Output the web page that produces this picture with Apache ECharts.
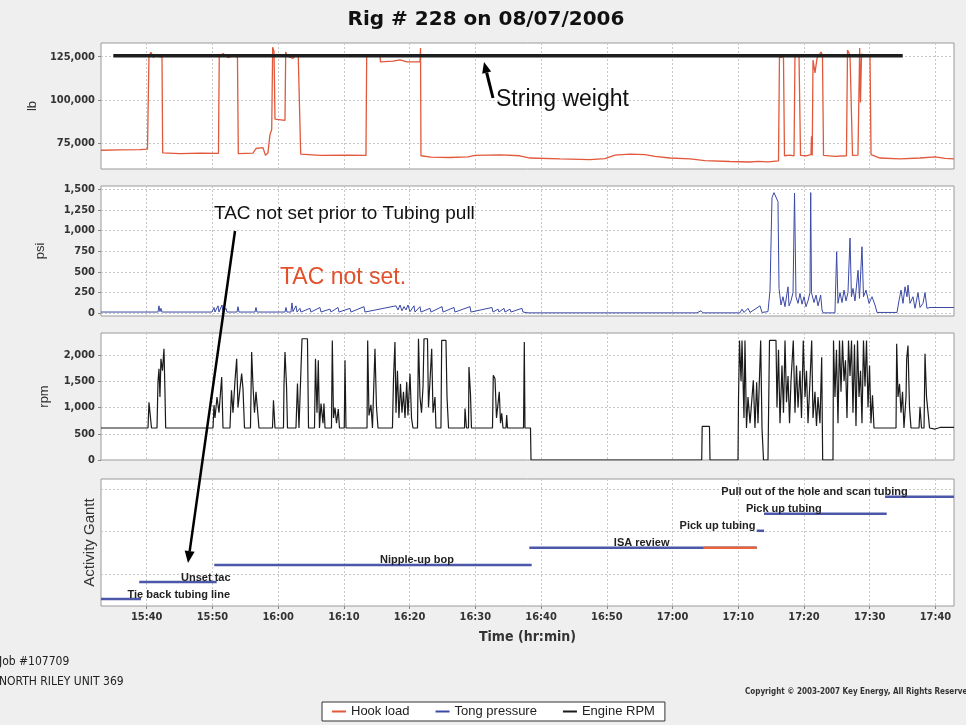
<!DOCTYPE html>
<html>
<head>
<meta charset="utf-8">
<title>Rig # 228 on 08/07/2006</title>
<script src="https://cdn.jsdelivr.net/npm/echarts@6.0.0/dist/echarts.min.js"></script>
<style>
  html, body { margin: 0; padding: 0; background: #efefef; }
  #chart { width: 966px; height: 725px; }
</style>
</head>
<body>
<div id="chart"></div>
<script>
// all times are minutes after midnight (15:40 = 940)
const hookTime = [
  933.05, 935.94, 938.98, 940.12, 940.24, 940.35, 940.65, 941.03, 941.41, 941.87, 942.33, 942.43,
  945.07, 948.11, 950.92, 951.04, 951.61, 952.37, 953.13, 953.81, 953.94, 956.17, 956.63, 957.69,
  958.07, 958.45, 958.76, 959.02, 959.17, 959.37, 959.52, 961.04, 961.15, 961.34, 962.26, 962.71,
  963.06, 963.43, 966.36, 970.17, 973.36, 973.47, 974.28, 975.49, 975.57, 977.47, 978.54, 979.6,
  981.58, 981.66, 981.73, 983.25, 986.14, 988.88, 989.95, 993.75, 996.79, 998.31, 1002.88, 1007.44,
  1009.72, 1011.24, 1013.52, 1015.8, 1017.33, 1019.61, 1022.66, 1024.94, 1028.74, 1031.78, 1033.0, 1034.52,
  1036.12, 1036.27, 1036.5, 1036.73, 1036.88, 1037.03, 1037.87, 1038.48, 1038.63, 1038.93, 1039.24, 1039.47,
  1040.3, 1041.06, 1041.14, 1041.25, 1041.37, 1041.67, 1041.98, 1042.28, 1042.59, 1042.81, 1042.97, 1044.71,
  1046.46, 1046.62, 1047.0, 1047.22, 1047.38, 1048.21, 1048.37, 1048.47, 1048.59, 1048.75, 1049.43, 1050.04,
  1050.2, 1051.56, 1054.61, 1057.65, 1059.93, 1061.45, 1062.82
];
const hookLoad = [
  71000, 71200, 71300, 71600, 72500, 125500, 127500, 124500, 126000, 125000, 124800, 69500,
  69000, 69300, 69200, 125000, 126800, 124500, 125500, 124800, 69000, 69300, 72000, 72500,
  68000, 69500, 80000, 83000, 130500, 128000, 89000, 88200, 127800, 125500, 124000, 126000,
  125000, 68800, 68000, 68200, 68000, 125500, 126000, 125000, 122000, 122500, 123200, 122000,
  122200, 130000, 67800, 67000, 66800, 67200, 68000, 68300, 67800, 66500, 66000, 65600,
  66200, 68200, 68800, 68500, 67500, 66500, 66000, 65000, 64500, 64200, 64600, 64300,
  64800, 126000, 124500, 125800, 124000, 67800, 68200, 67800, 126500, 125000, 125800, 68000,
  67800, 68500, 79000, 68000, 123000, 115700, 124000, 125000, 127700, 125500, 68000, 67500,
  67800, 128800, 126000, 125500, 68000, 68200, 69000, 130000, 98500, 126500, 125500, 126000,
  68500, 66500, 66000, 66500, 67200, 66300, 66000
];
const stringWeightTime = [934.92, 1055.02];
const stringWeight = 125600;

const tongTime = [
  933.05, 941.72, 941.87, 942.02, 942.17, 942.33, 949.93, 950.24, 950.39, 950.85, 951.0, 951.46,
  951.61, 952.06, 952.22, 953.74, 953.89, 954.04, 956.48, 956.63, 956.78, 961.04, 961.19, 961.34,
  961.95, 962.1, 962.26, 962.71, 962.87, 963.32, 963.47, 964.84, 964.99, 966.36, 966.52, 967.89,
  968.04, 969.1, 969.26, 970.93, 971.08, 973.06, 973.21, 977.93, 978.23, 978.54, 978.84, 979.14,
  979.45, 979.75, 980.06, 980.67, 980.82, 981.58, 981.73, 983.1, 983.25, 984.93, 985.08, 986.75,
  986.9, 989.19, 989.34, 992.53, 992.69, 993.45, 993.6, 994.36, 994.51, 995.27, 995.42, 997.1,
  997.25, 998.01, 1023.72, 1024.33, 1024.63, 1030.26, 1030.57, 1030.87, 1031.48, 1031.79, 1033.31, 1033.61,
  1034.52, 1034.83, 1035.13, 1035.44, 1035.74, 1036.04, 1036.2, 1036.5, 1036.8, 1037.11, 1037.41, 1037.57,
  1037.72, 1038.02, 1038.33, 1038.56, 1038.78, 1039.09, 1039.39, 1039.7, 1040.0, 1040.3, 1040.61, 1040.91,
  1041.02, 1041.14, 1041.52, 1041.83, 1042.13, 1042.54, 1042.74, 1042.89, 1044.71, 1044.97, 1045.17, 1045.48,
  1045.78, 1046.09, 1046.39, 1046.69, 1047.0, 1047.22, 1047.45, 1047.76, 1048.22, 1048.44, 1048.82, 1049.05,
  1049.43, 1049.89, 1050.35, 1050.8, 1051.11, 1054.15, 1054.45, 1054.76, 1055.06, 1055.37, 1055.67, 1055.82,
  1056.13, 1056.58, 1056.89, 1057.34, 1057.65, 1058.1, 1058.41, 1058.71, 1059.17, 1062.82
];
const tongPressure = [
  15, 15, 90, 20, 60, 15, 15, 70, 15, 90, 15, 100,
  15, 60, 15, 15, 80, 15, 15, 70, 15, 15, 70, 15,
  15, 125, 20, 90, 15, 60, 15, 60, 15, 70, 15, 50,
  15, 70, 15, 60, 15, 80, 15, 90, 40, 100, 30, 80,
  40, 100, 20, 90, 15, 80, 15, 60, 15, 80, 15, 70,
  15, 80, 15, 70, 15, 50, 15, 60, 15, 50, 15, 60,
  15, 5, 5, 30, 5, 5, 50, 10, 60, 10, 90, 10,
  20, 280, 1400, 1460, 1460, 1350, 300, 100, 200, 80, 240, 320,
  90, 150, 250, 1455, 200, 120, 240, 110, 200, 80, 150, 250,
  1460, 250, 130, 220, 90, 220, 40, 5, 5, 745, 120, 250,
  130, 280, 150, 250, 910, 200, 300, 150, 520, 180, 805, 200,
  280, 120, 200, 100, 10, 10, 150, 280, 120, 320, 200, 340,
  120, 200, 60, 250, 70, 120, 250, 60, 70, 70
];

const rpmTime = [
  933.05, 940.2, 940.35, 940.58, 940.73, 941.57, 941.72, 941.87, 942.02, 942.17, 942.4, 942.63,
  942.78, 942.89, 950.09, 950.24, 950.39, 950.7, 951.0, 951.41, 951.61, 952.67, 952.9, 953.13,
  953.43, 953.69, 953.89, 954.19, 954.45, 954.65, 954.88, 955.79, 955.97, 956.17, 956.4, 956.63,
  956.93, 957.08, 959.14, 959.29, 959.52, 960.81, 960.89, 961.04, 961.27, 961.42, 962.71, 962.94,
  963.17, 963.47, 963.63, 964.46, 964.62, 965.53, 965.68, 965.91, 966.11, 966.29, 966.52, 966.82,
  966.97, 967.13, 968.11, 968.24, 968.42, 968.65, 968.88, 969.15, 969.33, 970.06, 970.17, 970.32,
  973.52, 973.62, 973.82, 974.12, 974.35, 974.63, 974.73, 974.96, 975.19, 977.39, 977.55, 977.77,
  977.93, 978.15, 978.38, 978.61, 978.84, 979.07, 979.3, 979.56, 979.75, 980.06, 980.29, 980.51,
  981.2, 981.35, 981.58, 981.81, 982.04, 982.19, 982.72, 982.87, 983.1, 983.36, 983.56, 983.86,
  984.01, 984.77, 984.88, 985.53, 985.69, 985.92, 988.35, 988.43, 988.65, 988.96, 989.03, 989.26,
  989.41, 992.61, 992.73, 992.99, 993.22, 993.64, 993.83, 994.01, 994.21, 994.66, 994.77, 994.89,
  997.33, 997.45, 997.55, 998.39, 998.47, 1024.44, 1024.51, 1025.62, 1025.7, 1029.96, 1030.04, 1030.19,
  1030.42, 1030.57, 1030.87, 1031.02, 1031.25, 1031.48, 1031.79, 1032.29, 1032.54, 1032.8, 1033.0, 1033.41,
  1033.61, 1033.84, 1034.52, 1034.75, 1035.74, 1035.89, 1036.12, 1036.35, 1036.65, 1036.88, 1037.11, 1037.34,
  1037.57, 1037.8, 1038.02, 1038.37, 1038.63, 1038.86, 1039.09, 1039.39, 1039.62, 1039.89, 1040.15, 1040.38,
  1040.61, 1040.91, 1041.17, 1041.37, 1041.67, 1041.9, 1042.13, 1042.43, 1042.69, 1042.84, 1044.41, 1044.49,
  1044.71, 1044.94, 1045.17, 1045.4, 1045.63, 1045.86, 1046.09, 1046.31, 1046.54, 1046.77, 1047.0, 1047.23,
  1047.45, 1047.68, 1047.91, 1048.14, 1048.37, 1048.6, 1048.82, 1049.05, 1049.28, 1049.51, 1049.74, 1049.97,
  1050.19, 1050.42, 1050.65, 1054.0, 1054.1, 1054.3, 1054.53, 1054.76, 1054.99, 1055.21, 1055.52, 1055.62,
  1055.82, 1056.05, 1056.28, 1057.5, 1057.65, 1057.88, 1058.26, 1058.41, 1058.64, 1058.91, 1059.1, 1059.93,
  1060.69, 1062.82
];
const engineRpm = [
  610, 610, 1100, 1108, 610, 610, 1500, 1740, 1200, 1930, 1700, 2120,
  1300, 610, 610, 1045, 800, 1200, 900, 1580, 610, 610, 1330, 900,
  1500, 1930, 1000, 1350, 1645, 1360, 610, 610, 2057, 1425, 900, 1300,
  855, 610, 610, 1140, 610, 610, 1425, 2057, 1425, 610, 610, 1456,
  610, 610, 2310, 2310, 610, 610, 1930, 900, 1900, 610, 1077, 700,
  1077, 610, 610, 2278, 800, 1000, 700, 970, 610, 610, 1900, 610,
  610, 2278, 850, 1050, 610, 610, 2120, 1014, 610, 610, 1550, 2247,
  900, 1700, 800, 1450, 900, 1300, 800, 1488, 850, 1645, 800, 610,
  610, 2310, 1200, 900, 1400, 2310, 2310, 1000, 1500, 2120, 900, 1200,
  610, 610, 2278, 2278, 1200, 610, 610, 982, 610, 610, 1770, 1260,
  610, 610, 1615, 1550, 800, 1300, 700, 890, 610, 610, 855, 610,
  610, 2247, 610, 610, 0, 0, 640, 640, 0, 0, 1200, 2278,
  1500, 2278, 800, 2278, 610, 1200, 700, 1520, 610, 1480, 700, 2278,
  610, 0, 0, 2278, 2278, 1000, 2100, 700, 1800, 900, 2278, 1100,
  1600, 700, 1500, 2278, 900, 1800, 1000, 1700, 800, 2278, 1200, 1700,
  700, 1500, 2278, 800, 1300, 650, 1200, 700, 1960, 0, 0, 2278,
  1200, 2100, 700, 2278, 1300, 2278, 1500, 1900, 800, 2278, 1600, 2278,
  900, 2200, 650, 2278, 1200, 1700, 700, 2278, 1400, 2278, 1000, 1800,
  700, 1235, 610, 610, 2215, 1200, 1450, 900, 1300, 610, 1200, 1930,
  2180, 1000, 610, 610, 1014, 610, 610, 2025, 1200, 860, 610, 590,
  620, 620
];

const activities = ['Tie back tubing line', 'Unset tac', 'Nipple-up bop', 'ISA review',
  'Pick up tubing', 'Pick up tubing', 'Pull out of the hole and scan tubing'];
const activityStart = [933.05, 938.87, 950.28, 998.21, 1032.8, 1033.92, 1052.33];
const activityEnd = [939.13, 950.65, 998.57, 1032.8, 1033.92, 1052.58, 1062.82];
const activityLabelAt = [944.88, 948.99, 981.12, 1015.3, 1026.84, 1036.93, 1041.6];
const isaOverrun = [1024.68, 1032.8];

const lbTicks = [75000, 100000, 125000];
const psiTicks = [0, 250, 500, 750, 1000, 1250, 1500];
const rpmTicks = [0, 500, 1000, 1500, 2000];
const timeTicks = [940, 950, 960, 970, 980, 990, 1000, 1010, 1020, 1030, 1040, 1050, 1060];

const NARROW = "'Liberation Sans Narrow', 'DejaVu Sans Condensed', 'Liberation Sans', sans-serif";
const SANS = "'Liberation Sans', Arial, sans-serif";
const T_MIN = 933.05, T_MAX = 1062.82;
const gridTops = [43, 186, 333, 479];
const gridHeights = [126, 130, 127, 127];

function hhmm(v) {
  const h = Math.floor(v / 60);
  const m = Math.round(v - h * 60);
  return h + ':' + String(m).padStart(2, '0');
}
function pairs(xs, ys) {
  return xs.map((x, i) => [x, ys[i]]);
}
function rowOf(i) {
  return 0.42 + 0.4 * i;
}

function arrow(x1, y1, x2, y2, width, head) {
  const a = Math.atan2(y2 - y1, x2 - x1);
  const bx = x2 - head * Math.cos(a), by = y2 - head * Math.sin(a);
  const hw = head * 0.42;
  return [
    { type: 'line', z: 100, shape: { x1, y1, x2: bx, y2: by }, style: { stroke: '#000', lineWidth: width } },
    { type: 'polygon', z: 100, shape: { points: [[x2, y2],
      [bx + hw * Math.sin(a), by - hw * Math.cos(a)], [bx - hw * Math.sin(a), by + hw * Math.cos(a)]] },
      style: { fill: '#000' } }
  ];
}
function label(x, y, text, font, fill, align) {
  return { type: 'text', z: 100, x, y, style: { text, font, fill: fill || '#111', align: align || 'left', verticalAlign: 'middle' } };
}

const splitStyle = { show: true, lineStyle: { color: '#c6c6c6', type: [2, 2], width: 1 } };
const tickFont = { fontFamily: NARROW, fontWeight: 'bold', fontSize: 11, color: '#333' };

const chart = echarts.init(document.getElementById('chart'));

const xAxes = gridTops.map((_, i) => ({
  type: 'value', gridIndex: i, min: T_MIN, max: T_MAX,
  axisLine: { show: false },
  axisTick: { show: i === 3, length: 3, customValues: timeTicks, lineStyle: { color: '#888' } },
  axisLabel: Object.assign({ show: i === 3, customValues: timeTicks, formatter: hhmm, margin: 6 }, tickFont),
  splitLine: splitStyle,
  name: i === 3 ? 'Time (hr:min)' : '',
  nameLocation: 'middle', nameGap: 24,
  nameTextStyle: { fontFamily: NARROW, fontWeight: 'bold', fontSize: 14, color: '#333' }
}));

function yAxis(i, min, max, ticks, name, nameGap, showLabels, nameSize) {
  return {
    type: 'value', gridIndex: i, min, max,
    axisLine: { show: false },
    axisTick: { show: showLabels, length: 3, customValues: ticks, lineStyle: { color: '#888' } },
    axisLabel: Object.assign({ show: showLabels, customValues: ticks, margin: 6,
      formatter: v => v.toLocaleString('en-US') }, tickFont),
    splitLine: splitStyle,
    name, nameLocation: 'middle', nameGap,
    nameTextStyle: { fontFamily: SANS, fontSize: nameSize, color: '#333' }
  };
}

function ganttItem(params, api) {
  const s = api.coord([api.value(0), api.value(2)]);
  const e = api.coord([api.value(1), api.value(2)]);
  const children = [{ type: 'line', shape: { x1: s[0], y1: s[1], x2: e[0], y2: e[1] },
    style: { stroke: api.value(4) ? '#e8643c' : '#4b57a8', lineWidth: 2.5 } }];
  if (!api.value(4)) {
    const l = api.coord([api.value(3), api.value(2)]);
    children.push({ type: 'text', x: l[0], y: l[1] + 1,
      style: { text: activities[params.dataIndex], font: 'bold 11px ' + SANS, fill: '#222',
        align: 'center', verticalAlign: 'bottom' } });
  }
  return { type: 'group', children };
}

const ganttData = activities.map((n, i) => [activityStart[i], activityEnd[i], rowOf(i), activityLabelAt[i], 0]);
ganttData.push([isaOverrun[0], isaOverrun[1], rowOf(3), isaOverrun[0], 1]);

chart.setOption({
  animation: false,
  backgroundColor: '#efefef',
  grid: gridTops.map((top, i) => ({
    left: 101, right: 12, top, height: gridHeights[i],
    show: true, backgroundColor: '#fff', borderColor: '#9a9a9a', borderWidth: 1
  })),
  xAxis: xAxes,
  yAxis: [
    yAxis(0, 60160, 132910, lbTicks, 'lb', 58, true, 13),
    yAxis(1, -33, 1540, psiTicks, 'psi', 54, true, 13),
    yAxis(2, 0, 2420, rpmTicks, 'rpm', 50, true, 13),
    yAxis(3, 0.257, 3.234, [1, 2, 3], 'Activity Gantt', 4, false, 15)
  ],
  legend: {
    data: ['Hook load', 'Tong pressure', 'Engine RPM'],
    left: 322, top: 702, padding: [3, 10], itemGap: 26,
    icon: 'rect', itemWidth: 14, itemHeight: 2,
    backgroundColor: '#fff', borderColor: '#333', borderWidth: 1, borderRadius: 0,
    textStyle: { fontFamily: SANS, fontSize: 13, color: '#222' }
  },
  series: [
    { name: 'Hook load', type: 'line', xAxisIndex: 0, yAxisIndex: 0, showSymbol: false,
      data: pairs(hookTime, hookLoad),
      lineStyle: { color: '#e2583a', width: 1.3 }, itemStyle: { color: '#e2583a' } },
    { name: 'String weight', type: 'line', xAxisIndex: 0, yAxisIndex: 0, showSymbol: false,
      data: pairs(stringWeightTime, [stringWeight, stringWeight]),
      lineStyle: { color: '#1e1e1e', width: 3.5 }, itemStyle: { color: '#1e1e1e' } },
    { name: 'Tong pressure', type: 'line', xAxisIndex: 1, yAxisIndex: 1, showSymbol: false,
      data: pairs(tongTime, tongPressure),
      lineStyle: { color: '#3b49a6', width: 1 }, itemStyle: { color: '#3b49a6' } },
    { name: 'Engine RPM', type: 'line', xAxisIndex: 2, yAxisIndex: 2, showSymbol: false,
      data: pairs(rpmTime, engineRpm),
      lineStyle: { color: '#1a1a1a', width: 1.2 }, itemStyle: { color: '#1a1a1a' } },
    { name: 'Activity', type: 'custom', xAxisIndex: 3, yAxisIndex: 3,
      renderItem: ganttItem, data: ganttData, encode: { x: [0, 1], y: 2 } }
  ],
  graphic: [
    label(486, 20, 'Rig # 228 on 08/07/2006', 'bold 20px DejaVu Sans, sans-serif', '#111', 'center'),
    label(496, 100, 'String weight', '23px ' + SANS),
    ...arrow(493, 98, 484, 62, 3, 11),
    label(214, 214, 'TAC not set prior to Tubing pull', '19px ' + SANS),
    label(280, 278, 'TAC not set.', '23px ' + SANS, '#e2502c'),
    ...arrow(235, 231, 188, 563, 2.5, 12),
    label(-1, 662, 'Job #107709', '12px ' + NARROW, '#222'),
    label(-1, 682, 'NORTH RILEY UNIT 369', '12px ' + NARROW, '#222'),
    label(745, 692, 'Copyright \u00a9 2003-2007 Key Energy, All Rights Reserved', 'bold 8px ' + NARROW, '#333')
  ]
});
</script>
</body>
</html>
